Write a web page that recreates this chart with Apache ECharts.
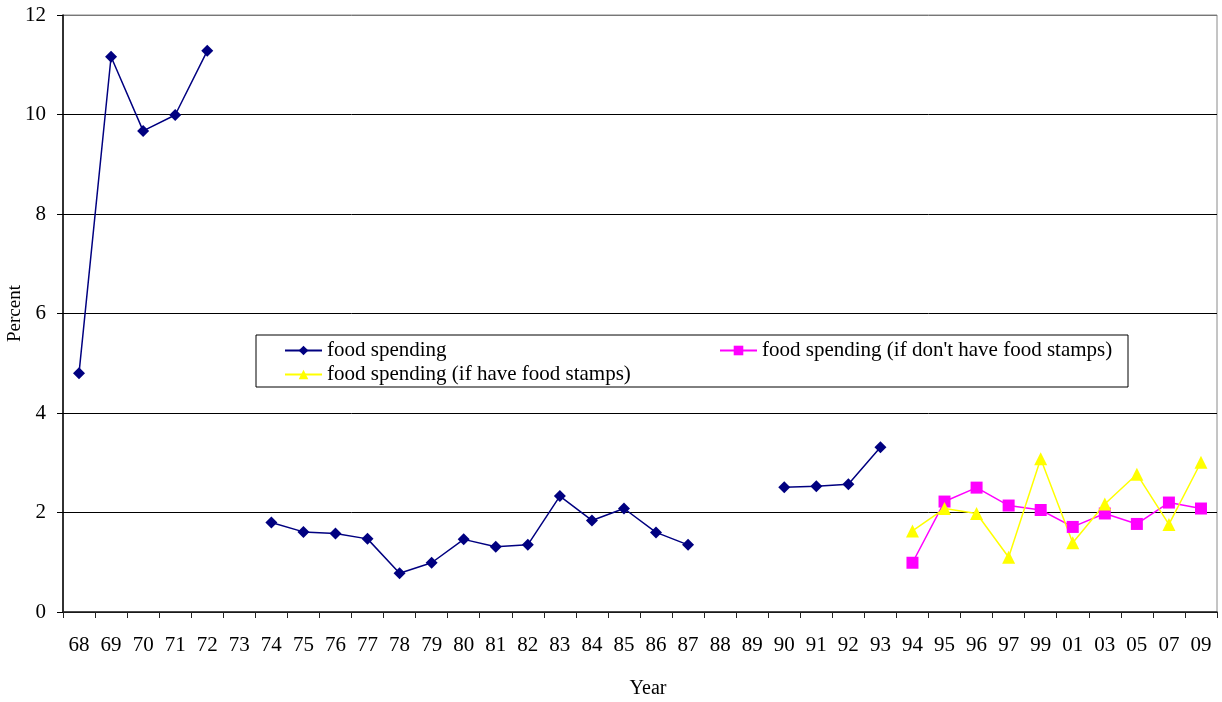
<!DOCTYPE html>
<html>
<head>
<meta charset="utf-8">
<script src="https://cdn.jsdelivr.net/npm/echarts@6/dist/echarts.min.js"></script>
<style>
  html, body { margin: 0; padding: 0; background: #fff; }
  #chart { width: 1222px; height: 702px; }
</style>
</head>
<body>
<div id="chart"></div>
<script>
// Data
const years = ['68', '69', '70', '71', '72', '73', '74', '75', '76', '77', '78', '79',
    '80', '81', '82', '83', '84', '85', '86', '87', '88', '89', '90', '91', '92', '93',
    '94', '95', '96', '97', '99', '01', '03', '05', '07', '09'];

const foodSpending = [4.80, 11.16, 9.67, 9.99, 11.28, null, 1.80, 1.61, 1.58, 1.47, 0.78, 0.99,
    1.46, 1.31, 1.35, 2.33, 1.84, 2.08, 1.60, 1.35, null, null, 2.51, 2.53, 2.57, 3.31,
    null, null, null, null, null, null, null, null, null, null];

const noStamps = [null, null, null, null, null, null, null, null, null, null, null, null,
    null, null, null, null, null, null, null, null, null, null, null, null, null, null,
    0.99, 2.22, 2.50, 2.14, 2.05, 1.71, 1.98, 1.77, 2.20, 2.08];

const haveStamps = [null, null, null, null, null, null, null, null, null, null, null, null,
    null, null, null, null, null, null, null, null, null, null, null, null, null, null,
    1.63, 2.08, 1.98, 1.10, 3.08, 1.39, 2.17, 2.77, 1.76, 3.01];

const yTicks = { min: 0, max: 12, interval: 2 };

const names = ['food spending', "food spending (if don't have food stamps)", 'food spending (if have food stamps)'];

const font = 'Liberation Serif';

let myChart = echarts.init(document.getElementById('chart'));

const legendText = { fontFamily: font, fontSize: 21, color: '#000', lineHeight: 20 };

const option = {
    backgroundColor: '#fff',
    animation: false,
    textStyle: { fontFamily: font },
    grid: {
        left: 63,
        right: 5,
        top: 15,
        bottom: 90,
        outerBoundsMode: 'none',
        containLabel: false,
        show: true,
        borderColor: '#8a8a8a',
        borderWidth: 1
    },
    graphic: [{
        type: 'rect',
        shape: { x: 256, y: 335, width: 872, height: 52 },
        style: { fill: '#fff', stroke: '#000', lineWidth: 1 },
        z: 3
    }],
    legend: [{
        data: [names[0], names[2]],
        orient: 'vertical',
        left: 284,
        top: 340,
        padding: 0,
        itemGap: 3,
        itemWidth: 37,
        itemHeight: 12,
        textStyle: legendText,
        z: 5
    }, {
        data: [names[1]],
        orient: 'vertical',
        left: 719,
        top: 340,
        padding: 0,
        itemGap: 3,
        itemWidth: 37,
        itemHeight: 12,
        textStyle: legendText,
        z: 5
    }],
    xAxis: {
        type: 'category',
        data: years,
        boundaryGap: true,
        name: 'Year',
        nameLocation: 'middle',
        nameGap: 67,
        nameMoveOverlap: false,
        nameTextStyle: { fontFamily: font, fontSize: 20, color: '#000', padding: [0, 0, 0, 16] },
        axisLine: { lineStyle: { color: '#222', width: 1.5 } },
        axisTick: { show: true, length: 6, alignWithLabel: false, lineStyle: { color: '#222' } },
        axisLabel: { interval: 0, margin: 23, fontFamily: font, fontSize: 21, color: '#000' },
        splitLine: { show: false }
    },
    yAxis: {
        type: 'value',
        min: yTicks.min,
        max: yTicks.max,
        interval: yTicks.interval,
        name: 'Percent',
        nameLocation: 'middle',
        nameGap: 38,
        nameMoveOverlap: false,
        nameTextStyle: { fontFamily: font, fontSize: 19, color: '#000' },
        axisLine: { show: true, lineStyle: { color: '#000', width: 1.5 } },
        axisTick: { show: true, length: 6, lineStyle: { color: '#000' } },
        axisLabel: { margin: 17, fontFamily: font, fontSize: 21, color: '#000' },
        splitLine: {
            show: true,
            lineStyle: { color: ['#000', '#000', '#000', '#000', '#000', '#000', '#777'], width: 1 }
        }
    },
    series: [{
        name: names[0],
        type: 'line',
        data: foodSpending,
        connectNulls: false,
        symbol: 'diamond',
        symbolSize: 12,
        color: '#000080',
        lineStyle: { color: '#000080', width: 1.5 },
        itemStyle: { color: '#000080' },
        z: 4
    }, {
        name: names[1],
        type: 'line',
        data: noStamps,
        connectNulls: false,
        symbol: 'rect',
        symbolSize: 12,
        color: '#ff00ff',
        lineStyle: { color: '#ff00ff', width: 1.5 },
        itemStyle: { color: '#ff00ff' },
        z: 4
    }, {
        name: names[2],
        type: 'line',
        data: haveStamps,
        connectNulls: false,
        symbol: 'triangle',
        symbolSize: 13,
        color: '#ffff00',
        lineStyle: { color: '#ffff00', width: 1.5 },
        itemStyle: { color: '#ffff00' },
        z: 4
    }]
};

if (option && typeof option === 'object') {
    myChart.setOption(option, true);
}
</script>
</body>
</html>
